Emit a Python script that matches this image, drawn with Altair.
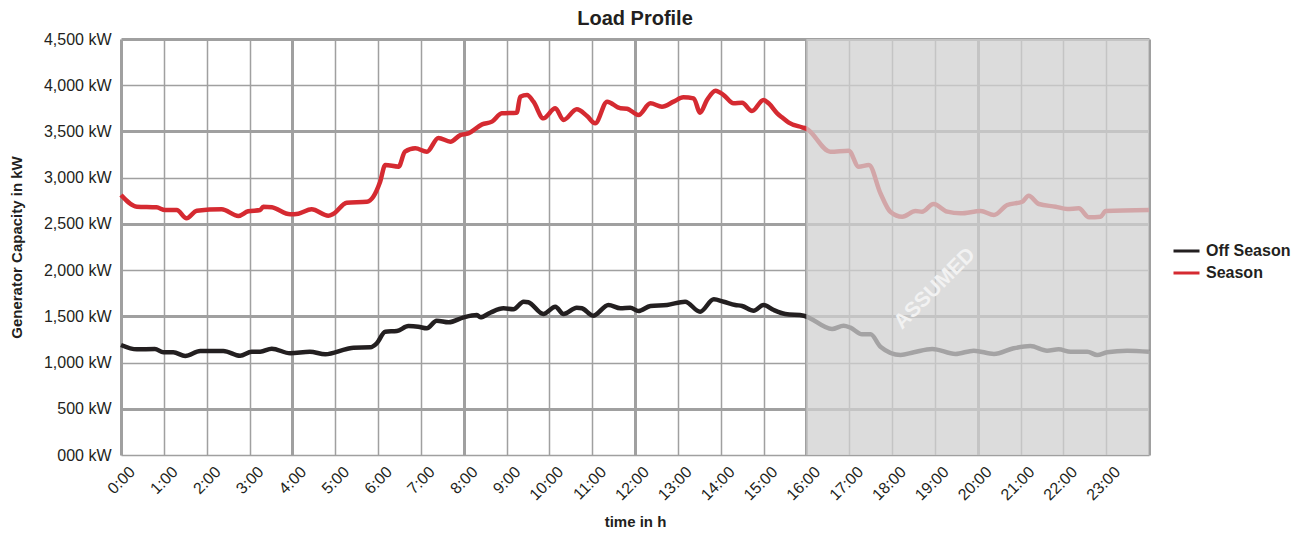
import altair as alt
import pandas as pd

# ---- data ----
season_hours = [0.0, 0.37, 0.83, 1.03, 1.30, 1.53, 1.77, 2.35, 2.74, 2.97, 3.25, 3.32, 3.52, 3.95,
                4.14, 4.45, 4.84, 4.96, 5.27, 5.74, 5.89, 6.05, 6.17, 6.48, 6.63, 6.87, 7.14, 7.41,
                7.69, 7.92, 8.11, 8.43, 8.66, 8.89, 9.24, 9.32, 9.48, 9.63, 9.86, 10.14, 10.33,
                10.64, 10.88, 11.07, 11.35, 11.66, 11.81, 12.08, 12.36, 12.63, 12.90, 13.13, 13.37,
                13.52, 13.68, 13.88, 14.07, 14.30, 14.50, 14.73, 15.00, 15.12, 15.32, 15.43, 15.59,
                15.90, 16.0, 16.56, 16.99, 17.22, 17.46, 17.73, 17.96, 18.24, 18.55, 18.70, 18.97,
                19.29, 19.60, 20.07, 20.38, 20.69, 21.04, 21.19, 21.43, 21.82, 22.09, 22.36, 22.60,
                22.87, 22.99, 24.0]
season_kw = [2812, 2686, 2679, 2650, 2650, 2560, 2643, 2658, 2585, 2636, 2650, 2686, 2679, 2603,
             2610, 2658, 2589, 2610, 2729, 2740, 2794, 2956, 3137, 3119, 3281, 3317, 3281, 3430,
             3389, 3461, 3479, 3577, 3606, 3696, 3703, 3876, 3894, 3822, 3642, 3750, 3624,
             3739, 3667, 3588, 3822, 3750, 3746, 3678, 3804, 3768, 3822, 3869, 3858,
             3703, 3840, 3941, 3894, 3804, 3811, 3721, 3840, 3804, 3696, 3653, 3595,
             3545, 3530, 3281, 3292, 3119, 3137, 2831, 2632, 2578, 2639, 2632, 2715,
             2632, 2614, 2639, 2596, 2704, 2740, 2805, 2715, 2686, 2661, 2669, 2571,
             2578, 2639, 2650]

off_hours = [0.0, 0.37, 0.79, 0.99, 1.22, 1.50, 1.85, 2.39, 2.78, 3.05, 3.25, 3.52, 3.95, 4.41,
             4.77, 5.27, 5.43, 5.82, 5.97, 6.17, 6.44, 6.71, 6.94, 7.14, 7.37, 7.65, 8.00, 8.31,
             8.39, 8.62, 8.93, 9.16, 9.40, 9.51, 9.86, 10.14, 10.33, 10.64, 10.76, 11.02, 11.38,
             11.66, 11.89, 12.08, 12.36, 12.75, 13.17, 13.52, 13.84, 14.07, 14.34, 14.50, 14.77,
             15.00, 15.24, 15.51, 15.94, 16.60, 16.87, 17.03, 17.30, 17.50, 17.73, 18.20, 18.51,
             18.94, 19.48, 19.91, 20.38, 20.84, 21.23, 21.62, 21.89, 22.17, 22.56, 22.79, 23.02,
             23.49, 24.0]
off_kw = [1190, 1143, 1147, 1111, 1111, 1071, 1125, 1125, 1074, 1117, 1117, 1150, 1100, 1117,
          1089, 1147, 1161, 1165, 1208, 1334, 1341, 1395, 1388, 1370, 1453, 1435, 1489, 1514,
          1489, 1539, 1587, 1576, 1658, 1652, 1525, 1604, 1525, 1593, 1587, 1507, 1623,
          1587, 1593, 1558, 1612, 1623, 1658, 1550, 1684, 1658, 1623, 1612, 1561,
          1623, 1568, 1525, 1507, 1363, 1399, 1377, 1305, 1305, 1172, 1082, 1111,
          1147, 1093, 1129, 1093, 1154, 1179, 1129, 1143, 1117, 1117, 1082, 1111,
          1129, 1117]

series_names = ["Off Season", "Season"]
series_colors = ["#231f20", "#d52a31"]
hour_ticks = list(range(0, 25))
kw_ticks = list(range(0, 4501, 500))

assumed_start = [16]
assumed_end = [24]
kw_min = [0]
kw_max = [4500]
note_text = ["ASSUMED"]
note_hour = [19.0]
note_kw = [1800]

FONT = "Liberation Sans"
TXT = "#231f20"

df = pd.concat([
    pd.DataFrame({"hour": off_hours, "kw": off_kw, "series": "Off Season", "order": range(len(off_hours))}),
    pd.DataFrame({"hour": season_hours, "kw": season_kw, "series": "Season", "order": range(len(season_hours))}),
])
shade = pd.DataFrame({"x": assumed_start, "x2": assumed_end, "y": kw_min, "y2": kw_max})
note = pd.DataFrame({"t": note_text, "hour": note_hour, "kw": note_kw})

xscale = alt.Scale(domain=[0, 24], nice=False, zero=False)
yscale = alt.Scale(domain=[0, 4500], nice=False)

x_axis = alt.Axis(
    values=hour_ticks,
    labelExpr="datum.value < 24 ? datum.value + ':00' : ''",
    labelAngle=-45, labelAlign="right", labelBaseline="middle",
    labelFont=FONT, labelFontSize=16, labelColor=TXT, labelPadding=14, labelOffset=11,
    domain=False, ticks=False,
    grid=True, gridColor="#a0a0a0",
    gridWidth={"condition": {"test": "datum.value % 4 === 0", "value": 3}, "value": 1.5},
    title="time in h", titleFont=FONT, titleFontSize=15, titleFontWeight="bold",
    titleColor=TXT, titlePadding=12,
)
y_axis = alt.Axis(
    values=kw_ticks,
    labelExpr="datum.value == 0 ? '000 kW' : format(datum.value, ',') + ' kW'",
    labelFont=FONT, labelFontSize=16, labelColor=TXT, labelPadding=10,
    domain=False, ticks=False,
    grid=True, gridColor="#a0a0a0",
    gridWidth={"condition": {"test": "(datum.value / 500) % 2 === 1", "value": 3}, "value": 1.5},
    title="Generator Capacity in kW", titleFont=FONT, titleFontSize=15,
    titleFontWeight="bold", titleColor=TXT, titlePadding=19,
)

lines = alt.Chart(df).mark_line(strokeWidth=4.5, interpolate="monotone").encode(
    x=alt.X("hour:Q", scale=xscale, axis=x_axis),
    y=alt.Y("kw:Q", scale=yscale, axis=y_axis),
    color=alt.Color("series:N", scale=alt.Scale(domain=series_names, range=series_colors),
                    legend=alt.Legend(title=None, orient="none", legendX=1051, legendY=204,
                                      symbolType="stroke", symbolSize=676, symbolStrokeWidth=3,
                                      clipHeight=16, rowPadding=6,
                                      labelFont=FONT, labelFontSize=16, labelFontWeight="bold",
                                      labelColor=TXT, labelOffset=5)),
    order="order:Q",
)

overlay = alt.Chart(shade).mark_rect(color="#d0d0d0", opacity=0.75).encode(
    x=alt.X("x:Q", scale=xscale), x2="x2:Q",
    y=alt.Y("y:Q", scale=yscale), y2="y2:Q",
)

label = alt.Chart(note).mark_text(
    angle=315, font=FONT, fontSize=21, fontWeight="bold", color="#f2f2f2"
).encode(
    x=alt.X("hour:Q", scale=xscale), y=alt.Y("kw:Q", scale=yscale), text="t:N"
)

chart = alt.layer(lines, overlay, label).properties(
    width=1028, height=416,
    title=alt.TitleParams("Load Profile", font=FONT, fontSize=20, fontWeight="bold",
                          color=TXT, anchor="middle", offset=2),
    autosize=alt.AutoSizeParams(type="none"),
    padding={"left": 113, "top": 31, "right": 145, "bottom": 86},
).configure_view(stroke=None)

chart.save("out.html", embed_options={"renderer": "svg", "actions": False})
